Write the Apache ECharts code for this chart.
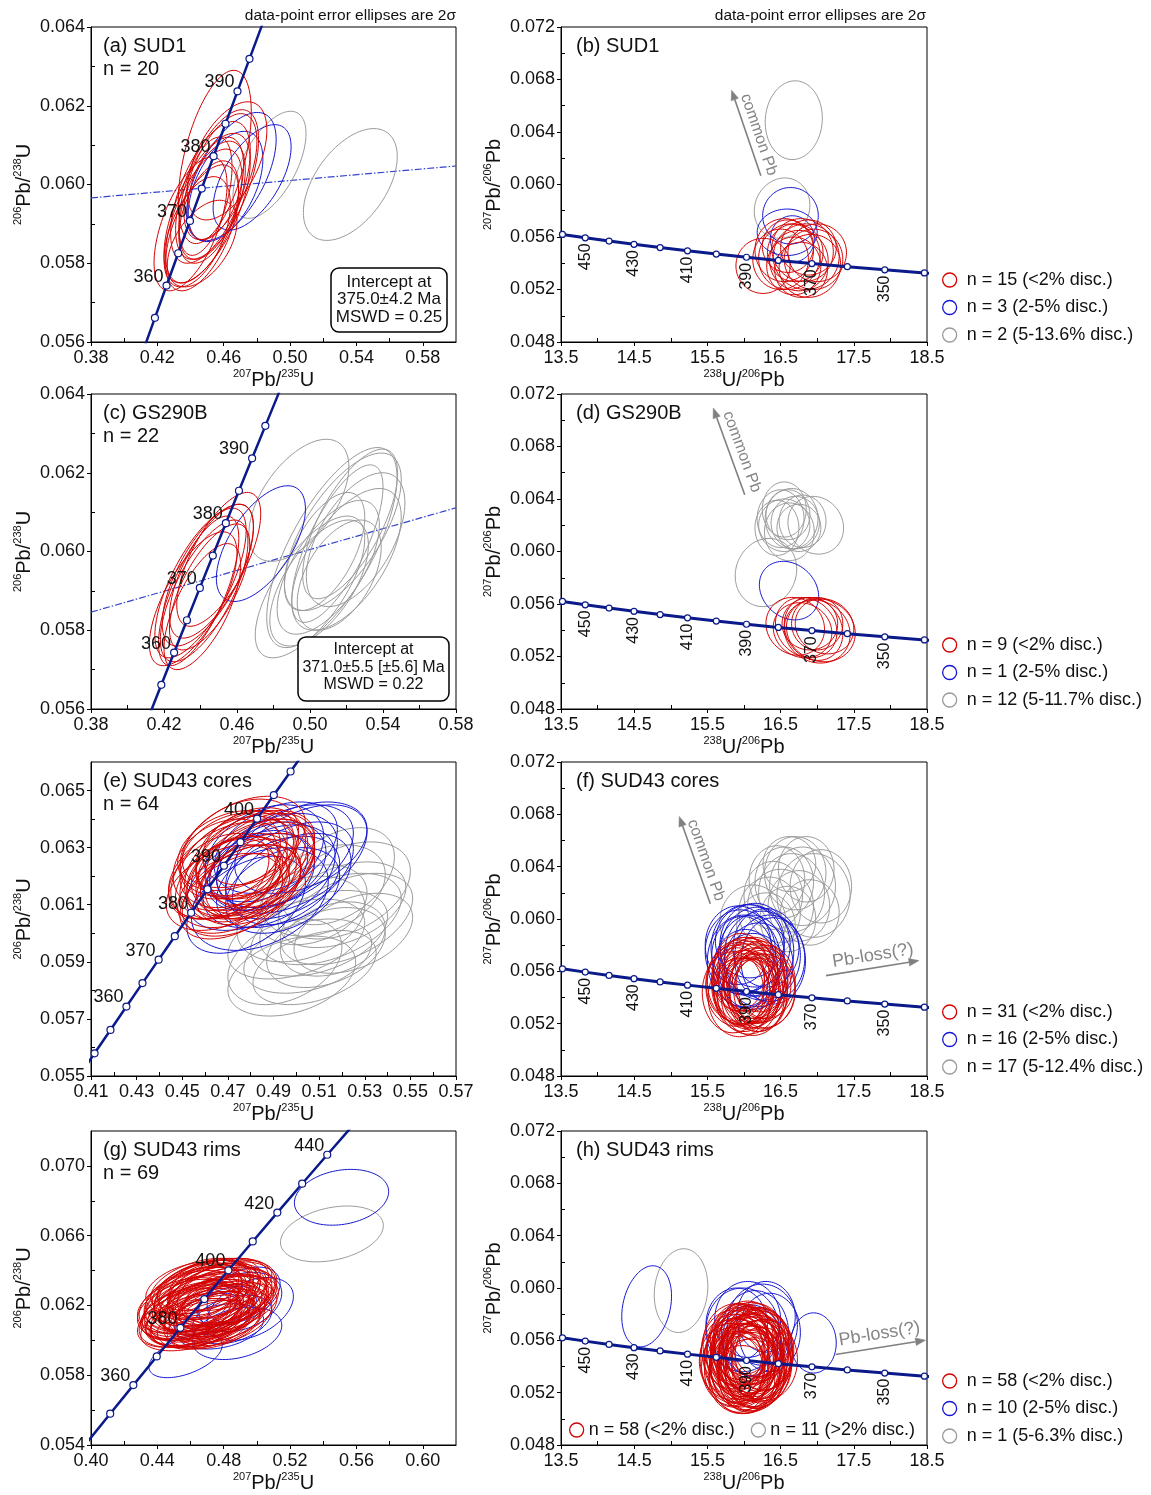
<!DOCTYPE html>
<html><head><meta charset="utf-8">
<script src="https://cdn.jsdelivr.net/npm/echarts@6/dist/echarts.min.js"></script>
<style>html,body{margin:0;padding:0;background:#fff}#c{width:1151px;height:1495px}</style>
</head><body><div id="c"></div>
<script>
// ---------------- tick labels ----------------
const xTicksAC = [0.38,0.42,0.46,0.50,0.54,0.58];
const xMinorAC = [0.40,0.44,0.48,0.52,0.56];
const yTicksAC = [0.056,0.058,0.060,0.062,0.064];
const yMinorAC = [0.057,0.059,0.061,0.063];
const xTicksE = [0.41,0.43,0.45,0.47,0.49,0.51,0.53,0.55,0.57];
const xMinorE = [0.42,0.44,0.46,0.48,0.50,0.52,0.54,0.56];
const yTicksE = [0.055,0.057,0.059,0.061,0.063,0.065];
const yMinorE = [0.056,0.058,0.060,0.062,0.064];
const xTicksG = [0.40,0.44,0.48,0.52,0.56,0.60];
const xMinorG = [0.42,0.46,0.50,0.54,0.58];
const yTicksG = [0.054,0.058,0.062,0.066,0.070];
const yMinorG = [0.056,0.060,0.064,0.068];
const xTicksTW = [13.5,14.5,15.5,16.5,17.5,18.5];
const xMinorTW = [14,15,16,17,18];
const yTicksTW = [0.048,0.052,0.056,0.060,0.064,0.068,0.072];
const yMinorTW = [0.050,0.054,0.058,0.062,0.066,0.070];

// ---------------- concordia ages (Ma) ----------------
const concW5 = [340,345,350,355,360,365,370,375,380,385,390,395,400,405,410,415,420];
const concW10 = [330,340,350,360,370,380,390,400,410,420,430,440,450,460];
const concTW = [330,340,350,360,370,380,390,400,410,420,430,440,450,460,470];
const labAC = [360,370,380,390];
const labE = [360,370,380,390,400];
const labG = [360,380,400,420,440];
const labTW = [350,370,390,410,430,450];

// ---------------- discordia lines (x,y pairs) ----------------
const discA = [[0.38,0.05966],[0.60,0.06047]];
const discC = [[0.38,0.05846],[0.58,0.06111]];

// ---------------- legend names ----------------
const NAMES_AB = ['n = 15 (<2% disc.)','n = 3 (2-5% disc.)','n = 2 (5-13.6% disc.)'];
const NAMES_CD = ['n = 9 (<2% disc.)','n = 1 (2-5% disc.)','n = 12 (5-11.7% disc.)'];
const NAMES_EF = ['n = 31 (<2% disc.)','n = 16 (2-5% disc.)','n = 17 (5-12.4% disc.)'];
const NAMES_GH = ['n = 58 (<2% disc.)','n = 10 (2-5% disc.)','n = 1 (5-6.3% disc.)'];
const NAME_H_OTHER = 'n = 11 (>2% disc.)';

// ---------------- ellipses [cx, cy, 2s_x, 2s_y, rho] ----------------
const aRed = [
[0.4546,0.0607,0.022,0.0022,0.52],[0.4560,0.0600,0.025,0.0019,0.60],[0.4520,0.0598,0.024,0.0018,0.58],
[0.4500,0.0594,0.026,0.0019,0.62],[0.4480,0.0592,0.023,0.0017,0.58],[0.4470,0.0589,0.022,0.0016,0.56],
[0.4530,0.0596,0.020,0.0015,0.52],[0.4580,0.0602,0.022,0.0016,0.56],[0.4440,0.0588,0.020,0.0014,0.50],
[0.4510,0.0593,0.018,0.0013,0.48],[0.4620,0.0606,0.024,0.0015,0.52],[0.4490,0.0597,0.016,0.0015,0.50],
[0.4400,0.0590,0.022,0.0017,0.58],[0.4550,0.0599,0.017,0.0013,0.45],[0.4470,0.0585,0.021,0.0011,0.50]];
const aBlue = [[0.4646,0.0602,0.027,0.00163,0.58],[0.4771,0.06018,0.0235,0.00134,0.58],[0.4611,0.05995,0.0225,0.0014,0.50]];
const aGray = [[0.4876,0.0605,0.022,0.00136,0.58],[0.5363,0.0600,0.0283,0.00142,0.50]];

const bRed = [
[16.26,0.0538,0.37,0.0021,0],[16.55,0.0550,0.40,0.0024,0],[16.62,0.0545,0.42,0.0025,0.05],
[16.70,0.0548,0.38,0.0022,0],[16.75,0.0542,0.40,0.0023,0],[16.80,0.0550,0.42,0.0024,-0.05],
[16.85,0.0545,0.45,0.0025,0],[16.95,0.0543,0.40,0.0023,0],[16.68,0.0538,0.37,0.0022,0],
[16.90,0.0538,0.42,0.0024,0.05],[16.60,0.0553,0.35,0.0020,0],[16.78,0.0535,0.36,0.0021,0],
[17.00,0.0548,0.40,0.0022,0],[16.50,0.0543,0.38,0.0023,0],[16.88,0.0552,0.38,0.0021,0]];
const bBlue = [[16.635,0.05762,0.38,0.00215,0],[16.59,0.05636,0.41,0.00177,0],[16.66,0.05585,0.30,0.00177,0]];
const bGray = [[16.68,0.0649,0.39,0.0030,0.05],[16.52,0.0582,0.38,0.0023,0.1]];

const cRed = [
[0.440,0.0592,0.025,0.0019,0.70],[0.442,0.0590,0.024,0.0018,0.69],[0.444,0.0594,0.025,0.0018,0.68],
[0.436,0.0588,0.024,0.0017,0.68],[0.446,0.0595,0.023,0.0017,0.67],[0.441,0.0586,0.021,0.0016,0.66],
[0.445,0.0591,0.022,0.0016,0.67],[0.450,0.0598,0.023,0.0017,0.68],[0.439,0.0590,0.022,0.0019,0.70]];
const cBlue = [[0.4731,0.0602,0.0244,0.00147,0.6]];
const cGray = [
[0.4939,0.0613,0.0274,0.00155,0.55],[0.5120,0.0601,0.0357,0.00254,0.70],[0.5180,0.0605,0.0320,0.00200,0.66],
[0.5200,0.0598,0.0300,0.00180,0.60],[0.5100,0.0596,0.0280,0.00170,0.63],[0.5150,0.0602,0.0250,0.00200,0.72],
[0.5050,0.0592,0.0270,0.00160,0.60],[0.5220,0.0607,0.0260,0.00190,0.68],[0.5080,0.0600,0.0220,0.00150,0.58],
[0.5250,0.0603,0.0270,0.00170,0.55],[0.5000,0.0591,0.0300,0.00180,0.68],[0.5160,0.0594,0.0230,0.00140,0.50]];

const dRed = [
[16.70,0.0543,0.40,0.0022,-0.1],[16.85,0.0542,0.42,0.0023,-0.15],[16.95,0.0541,0.40,0.0024,-0.15],
[17.00,0.0539,0.45,0.0024,-0.1],[17.05,0.0540,0.47,0.0024,-0.1],[16.90,0.0545,0.38,0.0020,0],
[17.10,0.0543,0.40,0.0021,-0.1],[16.80,0.0540,0.40,0.0021,-0.1],[17.00,0.0545,0.35,0.0020,0]];
const dBlue = [[16.615,0.05702,0.405,0.00223,-0.2]];
const dGray = [
[16.30,0.0584,0.42,0.0026,0.1],[16.50,0.0625,0.32,0.0022,0],[16.55,0.0620,0.35,0.0020,0],
[16.60,0.0628,0.30,0.0019,0],[16.62,0.0615,0.34,0.0022,0],[16.70,0.0622,0.33,0.0020,0],
[16.75,0.0618,0.30,0.0018,0],[16.80,0.0623,0.32,0.0020,0],[16.55,0.0632,0.30,0.0021,0],
[16.45,0.0618,0.30,0.0021,0],[16.98,0.0620,0.38,0.0022,-0.1],[16.65,0.0625,0.36,0.0023,0]];

const eRed = [
[0.470,0.0622,0.026,0.0017,0.4],[0.474,0.0625,0.025,0.0016,0.35],[0.478,0.0624,0.027,0.0018,0.4],
[0.482,0.0623,0.026,0.0017,0.45],[0.476,0.0620,0.024,0.0015,0.3],[0.472,0.0618,0.025,0.0016,0.35],
[0.468,0.0616,0.025,0.0015,0.4],[0.480,0.0628,0.024,0.0016,0.3],[0.484,0.0626,0.024,0.0016,0.4],
[0.475,0.0630,0.026,0.0017,0.35],[0.471,0.0627,0.022,0.0015,0.3],[0.479,0.0617,0.023,0.0014,0.35],
[0.473,0.0613,0.024,0.0015,0.45],[0.477,0.0632,0.027,0.0016,0.4],[0.481,0.0619,0.021,0.0014,0.3],
[0.469,0.0624,0.023,0.0016,0.25],[0.474,0.0621,0.020,0.0013,0.3],[0.478,0.0626,0.022,0.0014,0.35],
[0.483,0.0620,0.025,0.0015,0.4],[0.470,0.0619,0.021,0.0014,0.35],[0.476,0.0615,0.026,0.0016,0.45],
[0.472,0.0629,0.024,0.0014,0.3],[0.480,0.0622,0.028,0.0018,0.45],[0.466,0.0620,0.022,0.0015,0.4],
[0.477,0.0619,0.019,0.0012,0.3],[0.485,0.0624,0.023,0.0015,0.35],[0.473,0.0624,0.028,0.0019,0.5],
[0.479,0.0630,0.020,0.0013,0.25],[0.471,0.0614,0.023,0.0014,0.35],[0.482,0.0628,0.026,0.0015,0.4],
[0.475,0.0623,0.018,0.0011,0.3]];
const eBlue = [
[0.490,0.0625,0.028,0.0017,0.4],[0.495,0.0627,0.030,0.0018,0.45],[0.500,0.0626,0.031,0.0019,0.5],
[0.488,0.0620,0.029,0.0018,0.4],[0.484,0.0612,0.030,0.0018,0.35],[0.492,0.0618,0.027,0.0016,0.4],
[0.497,0.0622,0.028,0.0017,0.45],[0.486,0.0628,0.026,0.0017,0.35],[0.480,0.0618,0.028,0.0017,0.4],
[0.494,0.0615,0.025,0.0015,0.35],[0.502,0.0630,0.029,0.0016,0.4],[0.489,0.0624,0.024,0.0015,0.3],
[0.483,0.0622,0.022,0.0014,0.35],[0.498,0.0619,0.026,0.0016,0.4],[0.491,0.0630,0.027,0.0016,0.4],
[0.478,0.0610,0.026,0.0017,0.45]];
const eGray = [
[0.500,0.0598,0.030,0.0014,0.4],[0.505,0.0592,0.028,0.0013,0.35],[0.510,0.0600,0.030,0.0015,0.4],
[0.515,0.0605,0.031,0.0016,0.45],[0.520,0.0610,0.028,0.0015,0.4],[0.518,0.0620,0.025,0.0017,0.4],
[0.512,0.0615,0.027,0.0016,0.35],[0.522,0.0605,0.029,0.0016,0.45],[0.508,0.0588,0.027,0.0013,0.4],
[0.495,0.0590,0.025,0.0015,0.35],[0.525,0.0600,0.026,0.0014,0.4],[0.502,0.0605,0.028,0.0015,0.3],
[0.513,0.0595,0.026,0.0014,0.35],[0.507,0.0610,0.024,0.0014,0.3],[0.498,0.0585,0.028,0.0014,0.35],
[0.516,0.0598,0.023,0.0013,0.3],[0.521,0.0615,0.029,0.0017,0.4]];

const fRed = [
[15.90,0.0548,0.42,0.0030,0],[15.95,0.0552,0.45,0.0032,0],[16.00,0.0550,0.44,0.0031,0.05],
[16.05,0.0546,0.43,0.0030,0],[16.10,0.0553,0.45,0.0032,0],[16.15,0.0549,0.42,0.0029,0],
[16.20,0.0551,0.44,0.0030,-0.05],[16.25,0.0547,0.45,0.0031,0],[15.85,0.0544,0.42,0.0031,0],
[16.00,0.0542,0.40,0.0028,0],[16.08,0.0556,0.38,0.0027,0],[16.18,0.0544,0.41,0.0030,0],
[15.92,0.0556,0.36,0.0026,0],[16.12,0.0540,0.43,0.0029,0],[16.03,0.0558,0.40,0.0028,0],
[16.30,0.0552,0.40,0.0028,0],[15.88,0.0551,0.40,0.0029,0],[16.22,0.0556,0.38,0.0027,0],
[15.97,0.0545,0.38,0.0026,0],[16.07,0.0549,0.35,0.0025,0],[16.14,0.0555,0.42,0.0031,0],
[15.94,0.0540,0.43,0.0030,0],[16.28,0.0545,0.42,0.0028,0],[16.02,0.0553,0.46,0.0033,0],
[16.16,0.0547,0.37,0.0026,0],[15.99,0.0547,0.41,0.0029,0],[16.10,0.0544,0.40,0.0027,0],
[16.20,0.0542,0.39,0.0028,0],[15.96,0.0559,0.38,0.0030,0],[16.06,0.0541,0.42,0.0029,0],
[16.24,0.0550,0.36,0.0026,0]];
const fBlue = [
[15.95,0.0575,0.48,0.0032,0],[16.05,0.0578,0.50,0.0033,0],[16.15,0.0580,0.48,0.0032,0],
[16.25,0.0572,0.52,0.0034,0],[16.35,0.0570,0.48,0.0033,0],[16.00,0.0568,0.50,0.0035,0],
[16.10,0.0572,0.45,0.0031,0],[16.20,0.0565,0.47,0.0032,0],[15.92,0.0580,0.45,0.0030,0],
[16.08,0.0583,0.47,0.0028,0],[16.30,0.0578,0.45,0.0030,0],[16.40,0.0568,0.44,0.0033,0],
[16.02,0.0562,0.44,0.0030,0],[16.18,0.0575,0.50,0.0034,0],[15.98,0.0572,0.42,0.0030,0],
[16.12,0.0560,0.46,0.0029,0]];
const fGray = [
[16.12,0.0598,0.45,0.0028,0],[16.35,0.0605,0.42,0.0027,0],[16.50,0.0610,0.45,0.0028,0],
[16.65,0.0620,0.45,0.0030,0],[16.80,0.0625,0.45,0.0030,0],[16.95,0.0618,0.50,0.0032,0],
[16.70,0.0635,0.42,0.0028,0],[16.55,0.0628,0.40,0.0027,0],[16.85,0.0638,0.38,0.0025,0],
[16.40,0.0618,0.40,0.0026,0],[16.60,0.0600,0.38,0.0025,0],[16.75,0.0610,0.42,0.0027,0],
[17.05,0.0625,0.42,0.0028,0],[16.45,0.0630,0.38,0.0026,0],[16.90,0.0605,0.40,0.0025,0],
[16.62,0.0642,0.36,0.0021,0],[16.30,0.0595,0.40,0.0025,0]];

const gRed = [
[0.460,0.0616,0.030,0.0016,0.40],[0.464,0.0620,0.032,0.0018,0.45],[0.468,0.0622,0.031,0.0017,0.40],
[0.472,0.0624,0.033,0.0019,0.45],[0.476,0.0626,0.030,0.0018,0.40],[0.480,0.0625,0.031,0.0017,0.35],
[0.462,0.0612,0.029,0.0015,0.40],[0.466,0.0615,0.030,0.0016,0.45],[0.470,0.0618,0.028,0.0015,0.40],
[0.474,0.0620,0.032,0.0017,0.45],[0.478,0.0622,0.029,0.0016,0.40],[0.482,0.0628,0.030,0.0018,0.35],
[0.458,0.0618,0.030,0.0017,0.35],[0.463,0.0624,0.031,0.0018,0.40],[0.467,0.0627,0.029,0.0019,0.40],
[0.471,0.0629,0.030,0.0017,0.35],[0.475,0.0616,0.031,0.0016,0.45],[0.479,0.0619,0.028,0.0015,0.40],
[0.469,0.0613,0.033,0.0017,0.45],[0.465,0.0610,0.030,0.0014,0.40],[0.473,0.0611,0.029,0.0015,0.35],
[0.477,0.0630,0.030,0.0017,0.40],[0.461,0.0621,0.028,0.0016,0.35],[0.483,0.0621,0.030,0.0016,0.40],
[0.459,0.0613,0.031,0.0017,0.45],[0.470,0.0626,0.032,0.0018,0.40],[0.474,0.0628,0.028,0.0016,0.35],
[0.466,0.0619,0.026,0.0014,0.30],[0.478,0.0617,0.027,0.0015,0.35],[0.462,0.0626,0.029,0.0016,0.40],
[0.468,0.0609,0.028,0.0014,0.35],[0.476,0.0613,0.029,0.0015,0.40],[0.481,0.0616,0.031,0.0017,0.45],
[0.457,0.0615,0.027,0.0015,0.35],[0.465,0.0623,0.033,0.0019,0.45],[0.472,0.0621,0.027,0.0014,0.30],
[0.460,0.0609,0.030,0.0015,0.40],[0.484,0.0625,0.028,0.0016,0.35],[0.469,0.0630,0.029,0.0016,0.35],
[0.475,0.0623,0.034,0.0019,0.45],[0.463,0.0617,0.032,0.0017,0.40],[0.479,0.0627,0.032,0.0018,0.40],
[0.467,0.0612,0.031,0.0016,0.45],[0.473,0.0615,0.026,0.0013,0.30],[0.459,0.0622,0.030,0.0018,0.40],
[0.471,0.0632,0.031,0.0015,0.40],[0.477,0.0619,0.033,0.0018,0.45],[0.464,0.0628,0.027,0.0016,0.35],
[0.480,0.0613,0.029,0.0016,0.40],[0.456,0.0620,0.028,0.0016,0.35],[0.468,0.0616,0.035,0.0019,0.45],
[0.474,0.0609,0.028,0.0014,0.40],[0.482,0.0623,0.027,0.0015,0.35],[0.461,0.0630,0.028,0.0015,0.35],
[0.470,0.0620,0.036,0.0020,0.50],[0.466,0.0631,0.030,0.0016,0.40],[0.478,0.0632,0.031,0.0015,0.35],
[0.463,0.0614,0.034,0.0018,0.45]];
const gBlue = [
[0.551,0.0682,0.0284,0.0016,0.2],[0.457,0.0591,0.0221,0.00124,0.5],[0.496,0.0618,0.026,0.0018,0.4],
[0.490,0.0622,0.025,0.0017,0.3],[0.485,0.0612,0.024,0.0014,0.35],[0.478,0.0608,0.026,0.0013,0.3],
[0.492,0.0626,0.022,0.0016,0.4],[0.470,0.0615,0.020,0.0012,0.5],[0.482,0.0620,0.018,0.0011,0.4],
[0.488,0.0604,0.027,0.0015,0.3]];
const gGray = [[0.5452,0.0661,0.031,0.0016,0.3]];

const hRed = [
[15.90,0.0545,0.45,0.0032,0],[15.95,0.0550,0.46,0.0033,0],[16.00,0.0548,0.44,0.0031,0],
[16.05,0.0552,0.47,0.0033,0],[16.10,0.0546,0.45,0.0032,0],[16.15,0.0550,0.46,0.0031,0],
[16.20,0.0547,0.44,0.0032,0],[15.85,0.0540,0.43,0.0030,0],[15.92,0.0555,0.42,0.0030,0],
[15.98,0.0542,0.45,0.0031,0],[16.03,0.0556,0.43,0.0030,0],[16.08,0.0541,0.44,0.0032,0],
[16.13,0.0556,0.42,0.0029,0],[16.18,0.0542,0.46,0.0033,0],[16.25,0.0552,0.43,0.0030,0],
[15.88,0.0549,0.40,0.0028,0],[15.96,0.0538,0.41,0.0029,0],[16.06,0.0537,0.43,0.0031,0],
[16.16,0.0538,0.42,0.0030,0],[16.22,0.0557,0.40,0.0028,0],[15.94,0.0559,0.40,0.0029,0],
[16.02,0.0545,0.38,0.0027,0],[16.12,0.0552,0.38,0.0026,0],[15.84,0.0553,0.42,0.0030,0],
[16.28,0.0545,0.45,0.0031,0],[16.00,0.0535,0.48,0.0031,0],[16.10,0.0560,0.44,0.0029,0],
[15.87,0.0546,0.47,0.0034,0],[16.19,0.0549,0.48,0.0034,0],[16.04,0.0549,0.50,0.0035,0],
[15.91,0.0541,0.38,0.0026,0],[16.14,0.0544,0.39,0.0027,0],[15.97,0.0553,0.36,0.0025,0],
[16.09,0.0555,0.37,0.0026,0],[16.24,0.0541,0.41,0.0029,0],[15.82,0.0544,0.43,0.0029,0],
[16.07,0.0533,0.42,0.0028,0],[15.99,0.0561,0.41,0.0027,0],[16.17,0.0560,0.40,0.0028,0],
[15.93,0.0534,0.40,0.0029,0],[16.11,0.0536,0.45,0.0030,0],[16.21,0.0553,0.45,0.0032,0],
[15.89,0.0557,0.45,0.0031,0],[16.01,0.0540,0.46,0.0033,0],[16.13,0.0547,0.47,0.0033,0],
[15.86,0.0537,0.40,0.0028,0],[16.27,0.0549,0.39,0.0027,0],[16.05,0.0558,0.46,0.0032,0],
[15.95,0.0546,0.49,0.0034,0],[16.15,0.0535,0.40,0.0027,0],[16.03,0.0543,0.41,0.0029,0],
[15.92,0.0550,0.37,0.0026,0],[16.19,0.0544,0.44,0.0031,0],[16.08,0.0550,0.42,0.0030,0],
[15.97,0.0530,0.45,0.0026,0],[16.23,0.0558,0.38,0.0026,0],[16.00,0.0555,0.44,0.0032,0],
[16.12,0.0540,0.43,0.0031,0]];
const hBlue = [
[14.67,0.0586,0.34,0.0031,0.25],[16.95,0.0558,0.31,0.0023,0],[16.05,0.0576,0.45,0.0029,0],
[16.25,0.0572,0.48,0.0031,0],[15.98,0.0568,0.50,0.0032,0],[16.15,0.0565,0.46,0.0033,0],
[16.35,0.0566,0.42,0.0030,0],[15.90,0.0572,0.42,0.0028,0],[16.10,0.0560,0.40,0.0027,0],
[16.30,0.0578,0.40,0.0027,0]];
const hGray = [[15.14,0.0598,0.366,0.0032,0.1]];

// ---------------- annotations [x1,y1,x2,y2, textX,textY, textAlongReverse] ----------------
const annoB = [[16.23,0.06066,15.83,0.06719,16.20,0.0638,1]];
const annoD = [[16.01,0.06432,15.58,0.07093,15.97,0.0676,1]];
const annoF = [[15.54,0.06116,15.115,0.06784,15.48,0.0645,1],[17.12,0.05567,18.39,0.05682,17.76,0.0572,0]];
const annoH = [[17.25,0.05492,18.48,0.05601,17.85,0.05648,0]];
const annoTextB = ['common Pb'], annoTextD = ['common Pb'], annoTextF = ['common Pb','Pb-loss(?)'], annoTextH = ['Pb-loss(?)'];

// ---------------- styles ----------------
const FONT = '"Liberation Sans", Arial, Helvetica, sans-serif';
const RED = '#d40000', BLUE = '#1616d2', GRAY = '#9a9a9a', NAVY = '#0b1a8a', DISC = '#3344cc', ANNO = '#808080', TXT = '#111111';

const L238 = 1.55125e-10, L235 = 9.8485e-10, U85 = 137.88;
function wPt(t){ const a = Math.exp(L238*t*1e6)-1, b = Math.exp(L235*t*1e6)-1; return [b, a]; }
function twPt(t){ const a = Math.exp(L238*t*1e6)-1, b = Math.exp(L235*t*1e6)-1; return [1/a, b/a/U85]; }

const panels = [
 {tw:false, left:91, top:27, h:315, xr:[0.38,0.60], yr:[0.056,0.064], xt:xTicksAC, xm:xMinorAC, yt:yTicksAC, ym:yMinorAC, xd:2, yd:3,
  groups:[[aGray,GRAY,NAMES_AB[2]],[aBlue,BLUE,NAMES_AB[1]],[aRed,RED,NAMES_AB[0]]], nodes:concW5, lab:labAC, disc:discA, title:'(a) SUD1\nn = 20'},
 {tw:true, left:561, top:27, h:315, groups:[[bGray,GRAY,NAMES_AB[2]],[bBlue,BLUE,NAMES_AB[1]],[bRed,RED,NAMES_AB[0]]], anno:annoB, annoText:annoTextB, title:'(b) SUD1', legendTop:271, names:NAMES_AB},
 {tw:false, left:91, top:394, h:315, xr:[0.38,0.58], yr:[0.056,0.064], xt:xTicksAC, xm:xMinorAC, yt:yTicksAC, ym:yMinorAC, xd:2, yd:3,
  groups:[[cGray,GRAY,NAMES_CD[2]],[cBlue,BLUE,NAMES_CD[1]],[cRed,RED,NAMES_CD[0]]], nodes:concW5, lab:labAC, disc:discC, title:'(c) GS290B\nn = 22'},
 {tw:true, left:561, top:394, h:315, groups:[[dGray,GRAY,NAMES_CD[2]],[dBlue,BLUE,NAMES_CD[1]],[dRed,RED,NAMES_CD[0]]], anno:annoD, annoText:annoTextD, title:'(d) GS290B', legendTop:636, names:NAMES_CD},
 {tw:false, left:91, top:762, h:314, xr:[0.41,0.57], yr:[0.055,0.066], xt:xTicksE, xm:xMinorE, yt:yTicksE, ym:yMinorE, xd:2, yd:3,
  groups:[[eGray,GRAY,NAMES_EF[2]],[eBlue,BLUE,NAMES_EF[1]],[eRed,RED,NAMES_EF[0]]], nodes:concW5, lab:labE, title:'(e) SUD43 cores\nn = 64'},
 {tw:true, left:561, top:762, h:314, groups:[[fGray,GRAY,NAMES_EF[2]],[fBlue,BLUE,NAMES_EF[1]],[fRed,RED,NAMES_EF[0]]], anno:annoF, annoText:annoTextF, title:'(f) SUD43 cores', legendTop:1003, names:NAMES_EF},
 {tw:false, left:91, top:1131, h:314, xr:[0.40,0.62], yr:[0.054,0.072], xt:xTicksG, xm:xMinorG, yt:yTicksG, ym:yMinorG, xd:2, yd:3,
  groups:[[gGray,GRAY,NAMES_GH[2]],[gBlue,BLUE,NAMES_GH[1]],[gRed,RED,NAMES_GH[0]]], nodes:concW10, lab:labG, title:'(g) SUD43 rims\nn = 69'},
 {tw:true, left:561, top:1131, h:314, groups:[[hGray,GRAY,NAMES_GH[2]],[hBlue,BLUE,NAMES_GH[1]],[hRed,RED,NAMES_GH[0]]], anno:annoH, annoText:annoTextH, title:'(h) SUD43 rims', legendTop:1372, names:NAMES_GH}
];
panels.forEach(p => { if (p.tw) { Object.assign(p, {xr:[13.5,18.5], yr:[0.048,0.072], xt:xTicksTW, xm:xMinorTW, yt:yTicksTW, ym:yMinorTW, xd:1, yd:3, nodes:concTW, lab:labTW}); } });

const NAME_RICH = {
  m:{fontSize:20, fontFamily:FONT, color:TXT, verticalAlign:'bottom', lineHeight:22},
  s:{fontSize:11, fontFamily:FONT, color:TXT, verticalAlign:'top', lineHeight:14}
};
function ellipseRender(color){
  return function(params, api){
    const cx=api.value(0), cy=api.value(1), sx=api.value(2), sy=api.value(3), r=api.value(4);
    const k=Math.sqrt(Math.max(0,1-r*r)); const pts=[];
    for (let i=0;i<96;i++){ const t=i/96*Math.PI*2, c=Math.cos(t), s=Math.sin(t);
      pts.push(api.coord([cx+sx*c, cy+sy*(r*c+k*s)])); }
    return {type:'polygon', shape:{points:pts}, style:{fill:'none', stroke:color, lineWidth:1}, silent:true};
  };
}
function annoRender(texts){
  return function(params, api){
    const p1=api.coord([api.value(0),api.value(1)]), p2=api.coord([api.value(2),api.value(3)]), pt=api.coord([api.value(4),api.value(5)]);
    const flip=api.value(6);
    const dx=p2[0]-p1[0], dy=p2[1]-p1[1], len=Math.hypot(dx,dy), ux=dx/len, uy=dy/len;
    const hl=10, hw=3.8; const bx=p2[0]-ux*hl, by=p2[1]-uy*hl;
    const tdx=flip?-dx:dx, tdy=flip?-dy:dy; const rot=Math.atan2(-tdy, tdx);
    const txt=texts[params.dataIndex]; const fs = txt==='common Pb'?16:18;
    return {type:'group', children:[
      {type:'line', shape:{x1:p1[0],y1:p1[1],x2:bx,y2:by}, style:{stroke:ANNO, lineWidth:1.6}},
      {type:'polygon', shape:{points:[[p2[0],p2[1]],[bx-uy*hw,by+ux*hw],[bx+uy*hw,by-ux*hw]]}, style:{fill:ANNO, stroke:ANNO, lineWidth:0.5}},
      {type:'text', x:pt[0], y:pt[1], rotation:rot, style:{text:txt, fill:'#858585', font:fs+'px '+FONT, textAlign:'center', textVerticalAlign:'middle', align:'center', verticalAlign:'middle'}}
    ]};
  };
}
function labelRender(isTW){
  return function(params, api){
    const q=api.coord([api.value(0),api.value(1)]); const t=String(api.value(2));
    if (isTW) {
      return {type:'text', x:q[0], y:q[1]+19, rotation:Math.PI/2, z2:50,
        style:{text:t, fill:TXT, font:'16px '+FONT, textAlign:'center', textVerticalAlign:'middle', align:'center', verticalAlign:'middle'}};
    }
    return {type:'text', x:q[0]-3, y:q[1], z2:50,
      style:{text:t, fill:TXT, font:'18px '+FONT, textAlign:'right', textVerticalAlign:'bottom', align:'right', verticalAlign:'bottom'}};
  };
}

const grids=[], xAxes=[], yAxes=[], series=[], titles=[], legends=[];
panels.forEach((p,i)=>{
  const gi=i, ai=2*i;
  grids.push({left:p.left, top:p.top, width:p.tw?366:365, height:p.h, show:true, borderColor:'#000', borderWidth:1, backgroundColor:'rgba(0,0,0,0)'});
  const xName = p.tw ? '{s|238}{m|U/}{s|206}{m|Pb}' : '{s|207}{m|Pb/}{s|235}{m|U}';
  const yName = p.tw ? '{s|207}{m|Pb/}{s|206}{m|Pb}' : '{s|206}{m|Pb/}{s|238}{m|U}';
  xAxes.push({type:'value', gridIndex:gi, min:p.xr[0], max:p.xr[1], position:'bottom',
    axisLine:{show:true, onZero:false, lineStyle:{color:'#000', width:1}},
    axisTick:{show:true, inside:false, length:4, customValues:p.xt, lineStyle:{color:'#000'}},
    axisLabel:{show:true, customValues:p.xt, formatter:v=>Number(v).toFixed(p.xd), fontSize:18, fontFamily:FONT, color:TXT, margin:7},
    splitLine:{show:false}, name:xName, nameLocation:'middle', nameGap:26, nameTextStyle:{rich:NAME_RICH}});
  xAxes.push({type:'value', gridIndex:gi, min:p.xr[0], max:p.xr[1], position:'bottom',
    axisLine:{show:false, onZero:false}, axisLabel:{show:false},
    axisTick:{show:true, inside:true, length:4, customValues:p.xm, lineStyle:{color:'#000'}}, splitLine:{show:false}});
  yAxes.push({type:'value', gridIndex:gi, min:p.yr[0], max:p.yr[1], position:'left',
    axisLine:{show:true, onZero:false, lineStyle:{color:'#000', width:1}},
    axisTick:{show:true, inside:false, length:4, customValues:p.yt, lineStyle:{color:'#000'}},
    axisLabel:{show:true, customValues:p.yt, formatter:v=>Number(v).toFixed(p.yd), fontSize:18, fontFamily:FONT, color:TXT, margin:6},
    splitLine:{show:false}, name:yName, nameLocation:'middle', nameGap:57, nameTextStyle:{rich:NAME_RICH}});
  yAxes.push({type:'value', gridIndex:gi, min:p.yr[0], max:p.yr[1], position:'left',
    axisLine:{show:false, onZero:false}, axisLabel:{show:false},
    axisTick:{show:true, inside:true, length:4, customValues:p.ym, lineStyle:{color:'#000'}}, splitLine:{show:false}});

  if (p.disc) series.push({type:'line', xAxisIndex:ai, yAxisIndex:ai, data:p.disc, symbol:'none', z:1, silent:true, clip:true,
    lineStyle:{color:DISC, width:1.2, type:[7,2,1.5,2]}});
  p.groups.forEach((g,j)=>{
    series.push({type:'custom', name:g[2], xAxisIndex:ai, yAxisIndex:ai, data:g[0], renderItem:ellipseRender(g[1]),
      encode:{x:0, y:1}, clip:true, z:2+j, silent:true, itemStyle:{color:g[1]}});
  });
  series.push({type:'line', xAxisIndex:ai, yAxisIndex:ai, data:p.nodes.map(t=>p.tw?twPt(t):wPt(t)), clip:true, z:6,
    symbol:'circle', symbolSize:p.tw?6:7, showAllSymbol:true, silent:true,
    lineStyle:{color:NAVY, width:p.tw?3:2.5}, itemStyle:{color:'#fff', borderColor:NAVY, borderWidth:1.2}});
  series.push({type:'custom', xAxisIndex:ai, yAxisIndex:ai, z:8, silent:true,
    data:p.lab.map(t=>{const q=p.tw?twPt(t):wPt(t); return [q[0], q[1], t];}),
    encode:{x:0, y:1}, renderItem:labelRender(p.tw)});
  if (p.anno) series.push({type:'custom', xAxisIndex:ai, yAxisIndex:ai, data:p.anno, renderItem:annoRender(p.annoText),
    encode:{x:[0,2,4], y:[1,3,5]}, z:9, silent:true});
  titles.push({text:p.title, left:p.tw?576:103, top:p.top+7.5, padding:0,
    textStyle:{fontSize:20, fontWeight:'normal', color:TXT, fontFamily:FONT, lineHeight:23}});
  if (p.tw) {
    const cols=[RED,BLUE,GRAY];
    legends.push({orient:'vertical', left:942, top:p.legendTop, padding:0, itemGap:9.5, itemWidth:24, itemHeight:14, selectedMode:false,
      textStyle:{fontSize:18, fontFamily:FONT, color:TXT, lineHeight:18},
      data:p.names.map((n,k)=>({name:n, icon:'circle', itemStyle:{color:'#fff', borderColor:cols[k], borderWidth:1.3}}))});
  }
});
// dummy series for the inner legend of panel (h)
series.push({type:'custom', name:NAME_H_OTHER, xAxisIndex:14, yAxisIndex:14, data:[], renderItem:()=>null, itemStyle:{color:GRAY}});
legends.push({orient:'horizontal', left:569, top:1421, padding:0, itemGap:16, itemWidth:14, itemHeight:14, selectedMode:false,
  textStyle:{fontSize:18, fontFamily:FONT, color:TXT, lineHeight:18},
  data:[{name:NAMES_GH[0], icon:'circle', itemStyle:{color:'#fff', borderColor:RED, borderWidth:1.3}},
        {name:NAME_H_OTHER, icon:'circle', itemStyle:{color:'#fff', borderColor:GRAY, borderWidth:1.3}}]});

function txt(x,y,t,align,size){ return {type:'text', x:x, y:y, z:101, style:{text:t, fill:TXT, font:size+'px '+FONT, textAlign:align, textVerticalAlign:'middle', align:align, verticalAlign:'middle'}}; }
const graphic = [
  txt(456,16,'data-point error ellipses are 2σ','right',15.5),
  txt(926,16,'data-point error ellipses are 2σ','right',15.5),
  {type:'rect', z:100, shape:{x:331,y:268,width:116,height:64,r:8}, style:{fill:'#fff', stroke:'#000', lineWidth:1.5}},
  txt(389,282,'Intercept at','center',17), txt(389,299.5,'375.0±4.2 Ma','center',17), txt(389,317,'MSWD = 0.25','center',17),
  {type:'rect', z:100, shape:{x:298,y:637,width:151,height:64,r:8}, style:{fill:'#fff', stroke:'#000', lineWidth:1.5}},
  txt(373.5,650,'Intercept at','center',16), txt(373.5,667.5,'371.0±5.5 [±5.6] Ma','center',16), txt(373.5,685,'MSWD = 0.22','center',16)
];

const chart = echarts.init(document.getElementById('c'), null, {renderer:'canvas'});
chart.setOption({animation:false, backgroundColor:'#fff', grid:grids, xAxis:xAxes, yAxis:yAxes, series:series, title:titles, legend:legends, graphic:graphic});
</script></body></html>
